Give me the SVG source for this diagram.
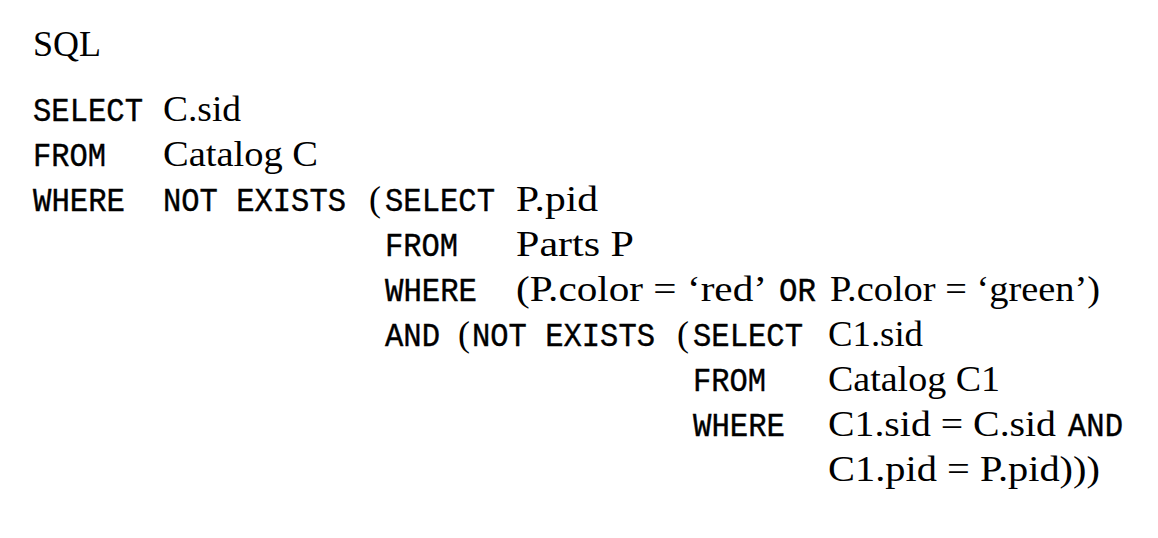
<svg xmlns="http://www.w3.org/2000/svg" width="1158" height="538" viewBox="0 0 1158 538">
<style>
.s{font-family:"Liberation Serif","Times New Roman",serif;font-size:36px;fill:#000}
.m{font-family:"Liberation Mono","Courier New",monospace;font-size:33px;fill:#000;stroke:#000;stroke-width:0.4px}
</style>
<rect width="1158" height="538" fill="#fff"/>
<g id="title"><text class="s" x="33" y="56" textLength="68" lengthAdjust="spacingAndGlyphs">SQL</text></g>
<g id="query">
<text class="m" x="33" y="121" textLength="110" lengthAdjust="spacingAndGlyphs">SELECT</text>
<text class="s" x="163" y="121" textLength="78" lengthAdjust="spacingAndGlyphs">C.sid</text>
<text class="m" x="33" y="166" textLength="73" lengthAdjust="spacingAndGlyphs">FROM</text>
<text class="s" x="163" y="166" textLength="155" lengthAdjust="spacingAndGlyphs">Catalog C</text>
<text class="m" x="33" y="211" textLength="92" lengthAdjust="spacingAndGlyphs">WHERE</text>
<text class="m" x="163" y="211" textLength="183" lengthAdjust="spacingAndGlyphs">NOT EXISTS</text>
<text class="s" x="369" y="211">(</text>
<text class="m" x="385" y="211" textLength="110" lengthAdjust="spacingAndGlyphs">SELECT</text>
<text class="s" x="516" y="211" textLength="82" lengthAdjust="spacingAndGlyphs">P.pid</text>
<text class="m" x="385" y="256" textLength="73" lengthAdjust="spacingAndGlyphs">FROM</text>
<text class="s" x="516" y="256" textLength="118" lengthAdjust="spacingAndGlyphs">Parts P</text>
<text class="m" x="385" y="301" textLength="92" lengthAdjust="spacingAndGlyphs">WHERE</text>
<text class="s" x="516" y="301" textLength="251" lengthAdjust="spacingAndGlyphs">(P.color = ‘red’</text>
<text class="m" x="779" y="301" textLength="37" lengthAdjust="spacingAndGlyphs">OR</text>
<text class="s" x="830" y="301" textLength="270" lengthAdjust="spacingAndGlyphs">P.color = ‘green’)</text>
<text class="m" x="385" y="346" textLength="55" lengthAdjust="spacingAndGlyphs">AND</text>
<text class="s" x="458" y="346">(</text>
<text class="m" x="472" y="346" textLength="183" lengthAdjust="spacingAndGlyphs">NOT EXISTS</text>
<text class="s" x="677" y="346">(</text>
<text class="m" x="693" y="346" textLength="110" lengthAdjust="spacingAndGlyphs">SELECT</text>
<text class="s" x="828" y="346" textLength="95" lengthAdjust="spacingAndGlyphs">C1.sid</text>
<text class="m" x="693" y="391" textLength="73" lengthAdjust="spacingAndGlyphs">FROM</text>
<text class="s" x="828" y="391" textLength="172" lengthAdjust="spacingAndGlyphs">Catalog C1</text>
<text class="m" x="693" y="436" textLength="92" lengthAdjust="spacingAndGlyphs">WHERE</text>
<text class="s" x="828" y="436" textLength="228" lengthAdjust="spacingAndGlyphs">C1.sid = C.sid</text>
<text class="m" x="1068" y="436" textLength="55" lengthAdjust="spacingAndGlyphs">AND</text>
<text class="s" x="828" y="481" textLength="272" lengthAdjust="spacingAndGlyphs">C1.pid = P.pid)))</text>
</g>
</svg>
